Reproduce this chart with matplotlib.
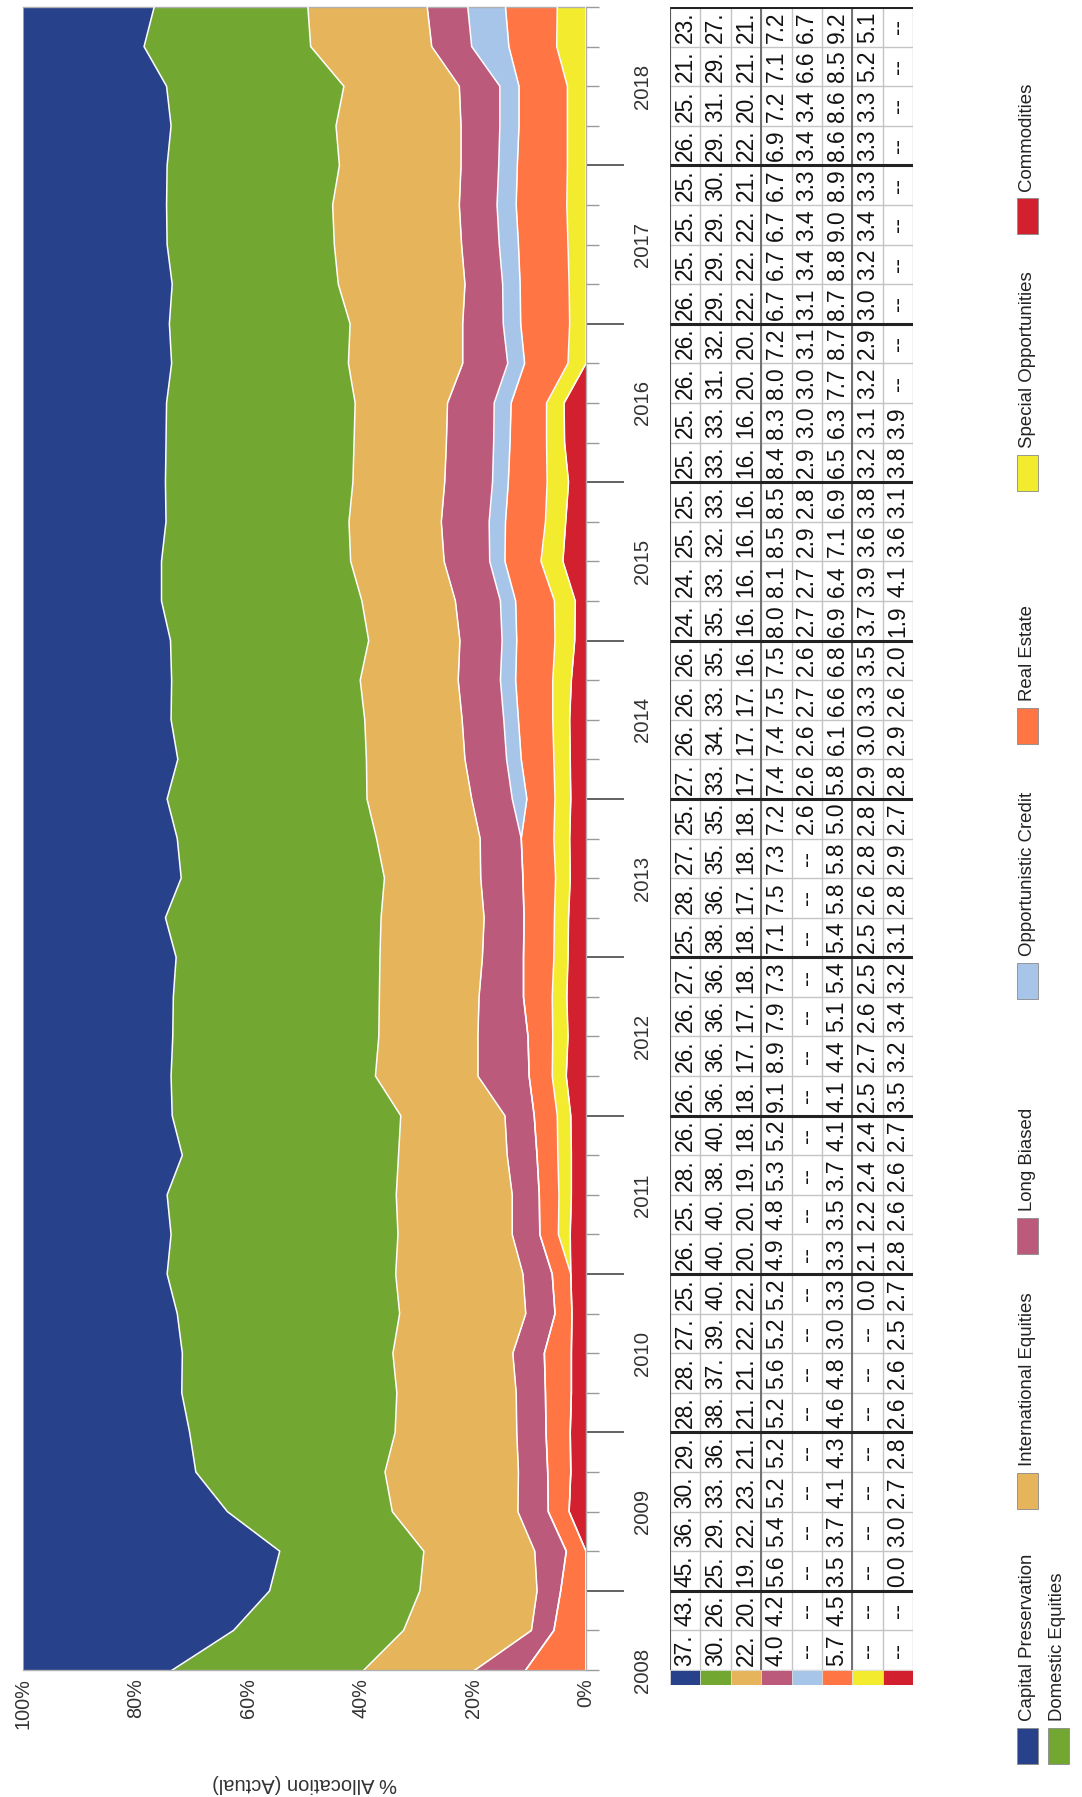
import matplotlib
matplotlib.use("Agg")
import matplotlib.pyplot as plt
from matplotlib import font_manager
from matplotlib.patches import Rectangle
from matplotlib.transforms import blended_transform_factory
import numpy as np
import pandas as pd

# ---------------- data ----------------
series_names = ["Capital Preservation", "Domestic Equities", "International Equities",
                "Long Biased", "Opportunistic Credit", "Real Estate",
                "Special Opportunities", "Commodities"]
series_colors = ["#27418A", "#72A832", "#E5B45B", "#BC5A7C",
                 "#A6C5E8", "#FF7544", "#F3EC2E", "#D2202F"]

first_quarter = "2008Q3"
last_quarter = "2018Q4"
start_time = 2008.5  # first plotted point (mid-2008)
# allocation at mid-2008 (read from the chart, not shown in the table)
start_values = [26.5, 34.0, 19.7, 9.0, 0.0, 10.7, 0.0, 0.0]

cap_pres = [37.4, 43.8, 45.6, 36.3, 30.7, 29.6, 28.2, 28.3, 27.4, 25.6, 26.3, 25.6, 28.3, 26.5,
            26.3, 26.6, 26.7, 27.2, 25.3, 28.1, 27.4, 25.6, 27.5, 26.3, 26.4, 26.2, 24.6, 24.6,
            25.4, 25.3, 25.4, 25.5, 26.4, 26.0, 26.5, 25.6, 25.5, 25.6, 26.3, 25.5, 21.5, 23.3]
dom_eq = [30.2, 26.7, 25.6, 29.3, 33.6, 36.5, 38.2, 37.4, 39.5, 40.6, 40.3, 40.7, 38.4, 40.6,
          36.3, 36.6, 36.6, 36.2, 38.3, 36.1, 35.4, 35.5, 33.5, 34.4, 33.5, 35.2, 35.6, 33.6,
          32.5, 33.3, 33.4, 33.5, 31.4, 32.1, 29.5, 29.7, 29.5, 30.6, 29.3, 31.5, 29.6, 27.3]
intl_eq = [22.7, 20.8, 19.7, 22.3, 23.7, 21.6, 21.2, 21.3, 22.4, 22.6, 20.3, 20.6, 19.3, 18.5,
           18.2, 17.6, 17.7, 18.2, 18.3, 17.1, 18.4, 18.6, 17.5, 17.3, 17.4, 16.2, 16.6, 16.6,
           16.4, 16.3, 16.4, 16.4, 20.3, 20.0, 22.5, 22.6, 22.5, 21.6, 22.2, 20.5, 21.5, 21.2]
long_biased = [4.0, 4.2, 5.6, 5.4, 5.2, 5.2, 5.2, 5.6, 5.2, 5.2, 4.9, 4.8, 5.3, 5.2,
               9.1, 8.9, 7.9, 7.3, 7.1, 7.5, 7.3, 7.2, 7.4, 7.4, 7.5, 7.5, 8.0, 8.1,
               8.5, 8.5, 8.4, 8.3, 8.0, 7.2, 6.7, 6.7, 6.7, 6.7, 6.9, 7.2, 7.1, 7.2]
opp_credit = [None, None, None, None, None, None, None, None, None, None, None, None, None, None,
              None, None, None, None, None, None, None, 2.6, 2.6, 2.6, 2.7, 2.6, 2.7, 2.7,
              2.9, 2.8, 2.9, 3.0, 3.0, 3.1, 3.1, 3.4, 3.4, 3.3, 3.4, 3.4, 6.6, 6.7]
real_estate = [5.7, 4.5, 3.5, 3.7, 4.1, 4.3, 4.6, 4.8, 3.0, 3.3, 3.3, 3.5, 3.7, 4.1,
               4.1, 4.4, 5.1, 5.4, 5.4, 5.8, 5.8, 5.0, 5.8, 6.1, 6.6, 6.8, 6.9, 6.4,
               7.1, 6.9, 6.5, 6.3, 7.7, 8.7, 8.7, 8.8, 9.0, 8.9, 8.6, 8.6, 8.5, 9.2]
special_opp = [None, None, None, None, None, None, None, None, None, 0.0, 2.1, 2.2, 2.4, 2.4,
               2.5, 2.7, 2.6, 2.5, 2.5, 2.6, 2.8, 2.8, 2.9, 3.0, 3.3, 3.5, 3.7, 3.9,
               3.6, 3.8, 3.2, 3.1, 3.2, 2.9, 3.0, 3.2, 3.4, 3.3, 3.3, 3.3, 5.2, 5.1]
commodities = [None, None, 0.0, 3.0, 2.7, 2.8, 2.6, 2.6, 2.5, 2.7, 2.8, 2.6, 2.6, 2.7,
               3.5, 3.2, 3.4, 3.2, 3.1, 2.8, 2.9, 2.7, 2.8, 2.9, 2.6, 2.0, 1.9, 4.1,
               3.6, 3.1, 3.8, 3.9, None, None, None, None, None, None, None, None, None, None]

table_series = [cap_pres, dom_eq, intl_eq, long_biased, opp_credit, real_estate,
                special_opp, commodities]
ylabels_pct = ["0%", "20%", "40%", "60%", "80%", "100%"]
ytick_pct = [0, 20, 40, 60, 80, 100]
axis_title = "% Allocation (Actual)"

# ---------------- fonts ----------------
names_installed = {f.name for f in font_manager.fontManager.ttflist}
NARROW = "Liberation Sans Narrow" in names_installed
if NARROW:
    FONT = ["Liberation Sans Narrow", "DejaVu Sans"]
    k = 1.0
else:
    FONT = ["Liberation Sans", "DejaVu Sans"]
    k = 0.84
plt.rcParams["font.family"] = FONT
REG = ["Liberation Sans", "DejaVu Sans"]

# ---------------- geometry ----------------
W, H = 1082, 1797
fig = plt.figure(figsize=(W / 100, H / 100), dpi=100)
fig.patch.set_facecolor("white")


def fx(px):
    return px / W


def fy(py):
    return 1 - py / H


PL, PR, PT, PB = 23, 586, 7, 1670
ax = fig.add_axes([fx(PL), fy(PB), (PR - PL) / W, (PB - PT) / H])

periods = pd.period_range(first_quarter, last_quarter, freq="Q")
q_end = np.array([p.year + p.quarter / 4 for p in periods])
q_mid = q_end - 0.125
t = np.concatenate([[start_time], q_end])

df = pd.DataFrame({n: [sv] + [np.nan if v is None else v for v in s]
                   for n, sv, s in zip(series_names, start_values, table_series)}).fillna(0.0)
pct = df.div(df.sum(axis=1), axis=0) * 100

# stacked areas (bottom of stack = last series)
cum = np.zeros(len(t))
bounds = []
for n, c in zip(reversed(series_names), reversed(series_colors)):
    upper = cum + pct[n].values
    ax.fill_betweenx(t, cum, upper, color=c, linewidth=0, zorder=2)
    bounds.append(upper)
    cum = upper
for b in bounds[:-1]:
    ax.plot(b, t, color="white", lw=1.1, zorder=3)

ax.set_xlim(100, 0)
ax.set_ylim(start_time, q_end[-1])
for sp in ax.spines.values():
    sp.set_color("#b0b0b0")
    sp.set_linewidth(1.0)
ax.spines["left"].set_visible(False)

ax.set_xticks(ytick_pct)
ax.set_xticklabels(ylabels_pct)
ax.tick_params(axis="x", length=0, pad=6, labelsize=17 * k, labelrotation=90, colors="#333333")

years = np.arange(2009, 2019)
ax.yaxis.tick_right()
ax.set_yticks(years)
ax.set_yticks(np.concatenate([[start_time], q_end]), minor=True)
ax.tick_params(axis="y", which="major", length=27, width=1.3, color="#555555",
               labelright=False, labelleft=False)
ax.tick_params(axis="y", which="minor", length=9.5, width=1.0, color="#9a9a9a",
               labelright=False, labelleft=False)

tr = blended_transform_factory(ax.transAxes, ax.transData)
xa = (642 - PL) / (PR - PL)
for y in range(2008, 2019):
    ax.text(xa, y + 0.5, str(y), transform=tr, rotation=90, ha="center", va="center",
            fontsize=17.5 * k, color="#333333", clip_on=False)

ax.set_xlabel(axis_title, rotation=180, fontsize=14.5, family=REG, color="#333333")
ax.xaxis.label.set_va("center")
ax.xaxis.set_label_coords(0.5, -(1783 - PB) / (PB - PT))

# ---------------- table ----------------
TL, TR = 670, 913
tab = fig.add_axes([fx(TL), fy(PB), (TR - TL) / W, (PB - PT) / H])
tab.set_xlim(0, 8)
tab.set_ylim(start_time, q_end[-1])
tab.axis("off")


def fmt(v):
    if v is None:
        return "--"
    if v >= 10:
        return f"{int(v)}."
    return f"{v:.1f}"


for i, s in enumerate(table_series):
    for j, v in enumerate(s):
        tab.text(i + 0.5, q_mid[j], fmt(v), rotation=90, ha="center", va="center",
                 fontsize=19.5 * k, color="#111111")

tab.hlines(np.concatenate([[start_time], q_end]), 0, 8, color="#c4c4c4", lw=1.0)
tab.vlines(np.arange(9), start_time, q_end[-1], color="#c4c4c4", lw=1.0)
tab.vlines([3, 6], start_time, q_end[-1], color="#707070", lw=1.4)
tab.vlines([0], start_time, q_end[-1], color="#555555", lw=1.4)
tab.hlines(np.arange(2009, 2020), 0, 8, color="#222222", lw=2.2)

sw = fig.add_axes([fx(TL), fy(1685), (TR - TL) / W, 15 / H])
sw.bar(np.arange(8), [1] * 8, width=1, align="edge", color=series_colors,
       edgecolor="#dddddd", linewidth=0.5)
sw.set_xlim(0, 8)
sw.set_ylim(0, 1)
sw.axis("off")

# ---------------- legend (rotated, drawn manually) ----------------
col_centers = [1746, 1491, 1236, 981, 726, 473, 216]
row_x = [1027, 1058]
for i, (n, c) in enumerate(zip(series_names, series_colors)):
    if i == 0:
        col, row = 0, 0
    elif i == 1:
        col, row = 0, 1
    else:
        col, row = i - 1, 0
    yc = col_centers[col]
    xc = row_x[row]
    sw_w, sw_h = 21, 36
    fig.add_artist(Rectangle((fx(xc - sw_w / 2), fy(yc + sw_h / 2)), sw_w / W, sw_h / H,
                             transform=fig.transFigure, facecolor=c, edgecolor="#8a8a8a",
                             linewidth=0.6))
    fig.text(fx(xc), fy(yc - sw_h / 2 - 7), n, rotation=90, rotation_mode="anchor",
             ha="left", va="center", fontsize=16 * k, color="#222222")

fig.savefig("out.png", dpi=100, facecolor="white")
